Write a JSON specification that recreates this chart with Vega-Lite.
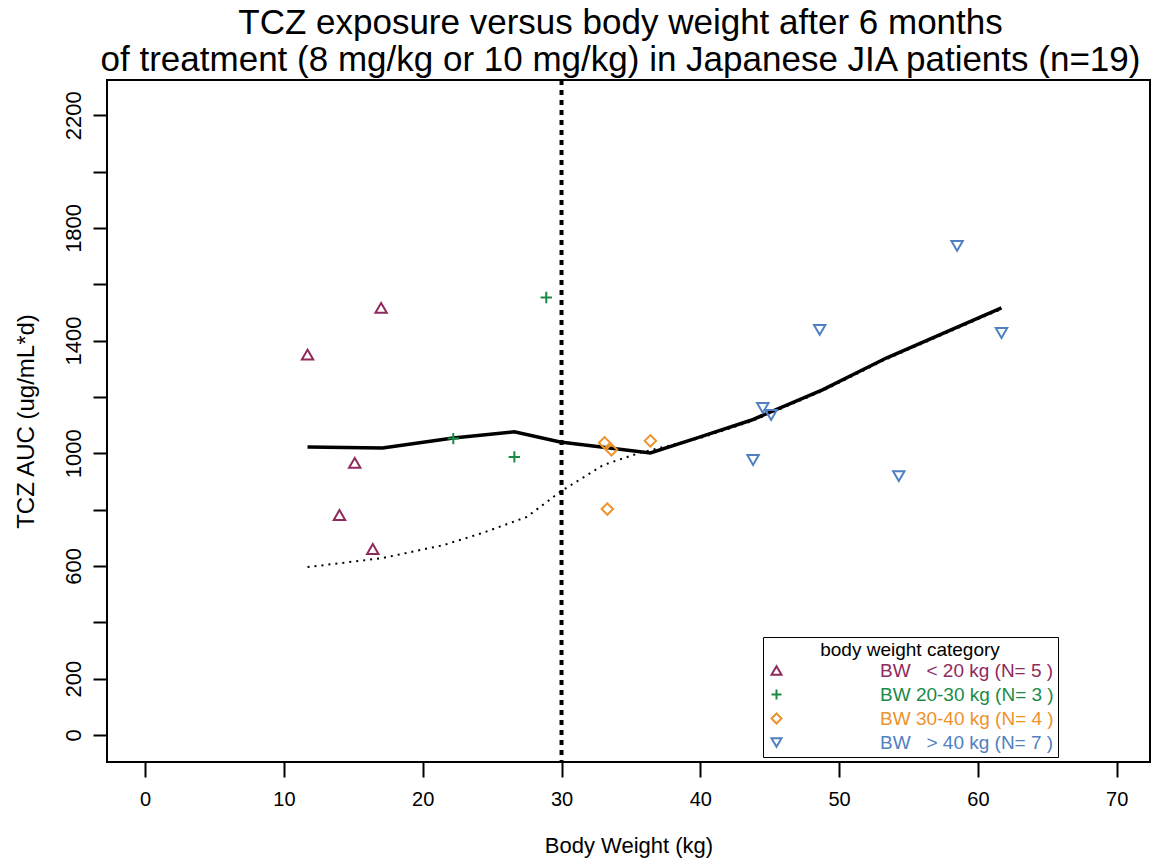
{
  "$schema": "https://vega.github.io/schema/vega-lite/v6.json",
  "autosize": "none",
  "width": 1043,
  "height": 682,
  "padding": {"left": 107, "top": 80, "right": 22, "bottom": 101},
  "background": "white",
  "title": {
    "text": ["TCZ exposure versus body weight after 6 months", "of treatment (8 mg/kg or 10 mg/kg) in Japanese JIA patients (n=19)"],
    "fontSize": 35,
    "font": "Liberation Sans",
    "fontWeight": "normal",
    "lineHeight": 37,
    "anchor": "middle",
    "offset": 0,
    "dx": -8,
    "color": "black"
  },
  "config": {
    "view": {"stroke": "black", "strokeWidth": 2},
    "font": "Liberation Sans"
  },
  "datasets": {
    "pts": [
      {"bw": 11.7, "auc": 1350, "cat": "BW\u00a0\u00a0\u00a0< 20 kg (N= 5 )"},
      {"bw": 17.0, "auc": 1516, "cat": "BW\u00a0\u00a0\u00a0< 20 kg (N= 5 )"},
      {"bw": 15.1, "auc": 966, "cat": "BW\u00a0\u00a0\u00a0< 20 kg (N= 5 )"},
      {"bw": 14.0, "auc": 781, "cat": "BW\u00a0\u00a0\u00a0< 20 kg (N= 5 )"},
      {"bw": 16.4, "auc": 660, "cat": "BW\u00a0\u00a0\u00a0< 20 kg (N= 5 )"},
      {"bw": 28.9, "auc": 1553, "cat": "BW 20-30 kg (N= 3 )"},
      {"bw": 26.6, "auc": 987, "cat": "BW 20-30 kg (N= 3 )"},
      {"bw": 22.2, "auc": 1052, "cat": "BW 20-30 kg (N= 3 )"},
      {"bw": 33.1, "auc": 1037, "cat": "BW 30-40 kg (N= 4 )"},
      {"bw": 33.6, "auc": 1012, "cat": "BW 30-40 kg (N= 4 )"},
      {"bw": 36.4, "auc": 1044, "cat": "BW 30-40 kg (N= 4 )"},
      {"bw": 33.3, "auc": 802, "cat": "BW 30-40 kg (N= 4 )"},
      {"bw": 58.5, "auc": 1736, "cat": "BW\u00a0\u00a0\u00a0> 40 kg (N= 7 )"},
      {"bw": 48.6, "auc": 1438, "cat": "BW\u00a0\u00a0\u00a0> 40 kg (N= 7 )"},
      {"bw": 61.7, "auc": 1427, "cat": "BW\u00a0\u00a0\u00a0> 40 kg (N= 7 )"},
      {"bw": 44.5, "auc": 1161, "cat": "BW\u00a0\u00a0\u00a0> 40 kg (N= 7 )"},
      {"bw": 45.1, "auc": 1136, "cat": "BW\u00a0\u00a0\u00a0> 40 kg (N= 7 )"},
      {"bw": 43.8, "auc": 976, "cat": "BW\u00a0\u00a0\u00a0> 40 kg (N= 7 )"},
      {"bw": 54.3, "auc": 919, "cat": "BW\u00a0\u00a0\u00a0> 40 kg (N= 7 )"}
    ],
    "solid": [
      {"bw": 11.7, "auc": 1022},
      {"bw": 17.1, "auc": 1019},
      {"bw": 22.2, "auc": 1054},
      {"bw": 26.6, "auc": 1076},
      {"bw": 29.9, "auc": 1040},
      {"bw": 36.4, "auc": 1001},
      {"bw": 40.0, "auc": 1058},
      {"bw": 43.7, "auc": 1118},
      {"bw": 48.8, "auc": 1225},
      {"bw": 53.4, "auc": 1338},
      {"bw": 61.7, "auc": 1516}
    ],
    "dotted": [
      {"bw": 11.7, "auc": 596},
      {"bw": 17.1, "auc": 628},
      {"bw": 21.5, "auc": 674},
      {"bw": 24.3, "auc": 717},
      {"bw": 27.5, "auc": 774},
      {"bw": 29.9, "auc": 863},
      {"bw": 33.0, "auc": 958},
      {"bw": 35.6, "auc": 1001},
      {"bw": 40.0, "auc": 1054},
      {"bw": 43.7, "auc": 1114},
      {"bw": 48.8, "auc": 1221},
      {"bw": 53.4, "auc": 1334},
      {"bw": 61.7, "auc": 1512}
    ],
    "vref": [{"bw": 30}]
  },
  "layer": [
    {
      "data": {"name": "dotted"},
      "mark": {"type": "line", "color": "black", "strokeWidth": 2, "strokeDash": [2, 5]},
      "encoding": {
        "x": {"field": "bw", "type": "quantitative", "scale": {"domain": [-2.75, 72.4], "nice": false, "zero": false}},
        "y": {"field": "auc", "type": "quantitative", "scale": {"domain": [-96, 2325], "nice": false, "zero": false}}
      }
    },
    {
      "data": {"name": "solid"},
      "mark": {"type": "line", "color": "black", "strokeWidth": 3.5},
      "encoding": {
        "x": {"field": "bw", "type": "quantitative"},
        "y": {"field": "auc", "type": "quantitative"}
      }
    },
    {
      "data": {"name": "vref"},
      "mark": {"type": "rule", "color": "black", "strokeWidth": 4, "strokeDash": [5, 5]},
      "encoding": {
        "x": {"field": "bw", "type": "quantitative"}
      }
    },
    {
      "data": {"name": "pts"},
      "mark": {"type": "point", "filled": false, "strokeWidth": 2, "size": 130, "opacity": 1},
      "encoding": {
        "x": {
          "field": "bw", "type": "quantitative",
          "axis": {
            "title": "Body Weight (kg)", "titleFontSize": 22, "titleFontWeight": "normal", "titlePadding": 26, "titleColor": "black",
            "values": [0, 10, 20, 30, 40, 50, 60, 70],
            "domain": false, "grid": false, "tickSize": 15, "tickWidth": 2, "tickColor": "black",
            "labelFontSize": 20, "labelPadding": 12, "labelColor": "black", "labelFlush": false
          }
        },
        "y": {
          "field": "auc", "type": "quantitative",
          "axis": {
            "title": "TCZ AUC (ug/mL*d)", "titleFontSize": 24, "titleFontWeight": "normal", "titlePadding": 24, "titleColor": "black",
            "values": [0, 200, 400, 600, 800, 1000, 1200, 1400, 1600, 1800, 2000, 2200],
            "labelExpr": "indexof([0,200,600,1000,1400,1800,2200], datum.value) >= 0 ? datum.label : ''",
            "format": "d",
            "domain": false, "grid": false, "tickSize": 14, "tickWidth": 2, "tickColor": "black",
            "labelFontSize": 22, "labelAngle": -90, "labelAlign": "center", "labelBaseline": "bottom", "labelPadding": 8, "labelColor": "black", "labelFlush": false
          }
        },
        "color": {
          "field": "cat", "type": "nominal",
          "scale": {
            "domain": ["BW\u00a0\u00a0\u00a0< 20 kg (N= 5 )", "BW 20-30 kg (N= 3 )", "BW 30-40 kg (N= 4 )", "BW\u00a0\u00a0\u00a0> 40 kg (N= 7 )"],
            "range": ["#8E2A5E", "#1B8A47", "#EE922C", "#4F80C2"]
          },
          "legend": {
            "title": "body weight category",
            "orient": "none",
            "legendX": 656,
            "legendY": 557,
            "titleAnchor": "middle",
            "titleFontSize": 19,
            "titleFontWeight": "normal",
            "titleColor": "black",
            "titlePadding": 1,
            "labelFontSize": 19,
            "labelOffset": 94,
            "labelLimit": 500,
            "labelExpr": "datum.label + '\u00a0\u00a0\u00a0\u00a0'",
            "labelColor": {"expr": "indexof(datum.value, '< 20') >= 0 ? '#8E2A5E' : indexof(datum.value, '20-30') >= 0 ? '#1B8A47' : indexof(datum.value, '30-40') >= 0 ? '#EE922C' : '#4F80C2'"},
            "symbolSize": 100,
            "symbolStrokeWidth": 2,
            "rowPadding": 4,
            "padding": 4,
            "strokeColor": "black",
            "fillColor": "white"
          }
        },
        "shape": {
          "field": "cat", "type": "nominal",
          "scale": {
            "domain": ["BW\u00a0\u00a0\u00a0< 20 kg (N= 5 )", "BW 20-30 kg (N= 3 )", "BW 30-40 kg (N= 4 )", "BW\u00a0\u00a0\u00a0> 40 kg (N= 7 )"],
            "range": ["triangle-up", "M-1,0H1M0,-1V1", "diamond", "triangle-down"]
          },
          "legend": null
        }
      }
    }
  ]
}
